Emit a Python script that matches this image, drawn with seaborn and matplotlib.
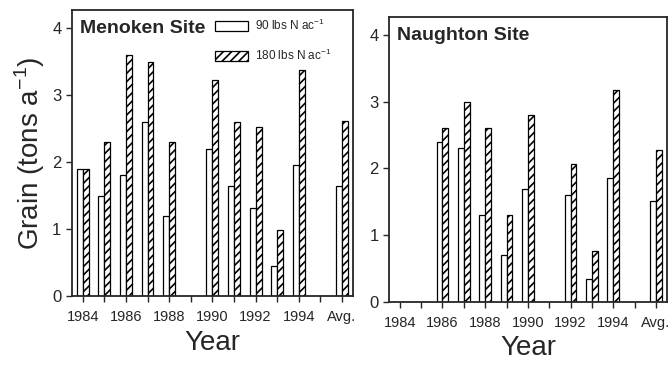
import numpy as np
import pandas as pd
import matplotlib
matplotlib.use('Agg')
import matplotlib.pyplot as plt
from matplotlib.patches import Patch
import seaborn as sns


# ============================================
# Data
# ============================================
years = ['1984', '1985', '1986', '1987', '1988', '1989', '1990',
         '1991', '1992', '1993', '1994', '1995', 'Avg.']
tick_labels = ['1984', '', '1986', '', '1988', '', '1990',
               '', '1992', '', '1994', '', 'Avg.']
rates = ['90 lbs N ac$^{-1}$', '180 lbs N ac$^{-1}$']

menoken_90  = [1.90, 1.50, 1.80, 2.60, 1.20, np.nan, 2.20,
               1.65, 1.32, 0.45, 1.95, np.nan, 1.65]
menoken_180 = [1.90, 2.30, 3.60, 3.50, 2.30, np.nan, 3.22,
               2.60, 2.52, 0.98, 3.38, np.nan, 2.62]
naughton_90  = [np.nan, np.nan, 2.40, 2.30, 1.30, 0.70, 1.70,
                np.nan, 1.60, 0.35, 1.85, np.nan, 1.52]
naughton_180 = [np.nan, np.nan, 2.60, 3.00, 2.60, 1.30, 2.80,
                np.nan, 2.07, 0.76, 3.18, np.nan, 2.27]


def to_long(v90, v180):
    df = pd.DataFrame({'year': years * 2,
                       'rate': [rates[0]] * len(years) + [rates[1]] * len(years),
                       'grain': list(v90) + list(v180)})
    return df


sns.set_style('ticks')
plt.rcParams['font.family'] = ['Liberation Sans', 'DejaVu Sans']
plt.rcParams['hatch.linewidth'] = 1.2
plt.rcParams['mathtext.fontset'] = 'custom'
plt.rcParams['mathtext.rm'] = 'Liberation Sans'


def draw_panel(ax, df, title):
    sns.barplot(data=df, x='year', y='grain', hue='rate', order=years,
                hue_order=rates, palette=['white', 'white'], width=0.55,
                edgecolor='black', linewidth=0.9, legend=False, ax=ax)
    # hatch the 180 lbs bars (second hue container)
    for bar in ax.containers[1]:
        bar.set_hatch('////')
    ax.set_xlim(-0.5, 12.5)
    ax.set_ylim(0, 4.27)
    ax.set_yticks([0, 1, 2, 3, 4])
    ax.set_xticks(range(len(years)))
    ax.set_xticklabels(tick_labels, fontsize=10.5)
    ax.tick_params(axis='y', labelsize=12, length=4, width=1, direction='out')
    ax.tick_params(axis='x', length=4, width=1, direction='out', pad=6)
    for s in ax.spines.values():
        s.set_linewidth(1.3)
        s.set_visible(True)
    ax.set_xlabel('Year', fontsize=20, labelpad=4)
    ax.set_ylabel('')
    ax.text(0.03, 0.935, title, transform=ax.transAxes, fontsize=14,
            fontweight='bold', va='center', ha='left')


fig = plt.figure(figsize=(6.72, 3.67), dpi=100)
ax1 = fig.add_axes([0.107, 0.193, 0.418, 0.780])
ax2 = fig.add_axes([0.579, 0.177, 0.413, 0.777])

draw_panel(ax1, to_long(menoken_90, menoken_180), 'Menoken Site')
draw_panel(ax2, to_long(naughton_90, naughton_180), 'Naughton Site')

ax1.set_ylabel('Grain (tons a$^{-1}$)', fontsize=20, labelpad=4)

handles = [Patch(facecolor='white', edgecolor='black', linewidth=0.9),
           Patch(facecolor='white', edgecolor='black', linewidth=0.9, hatch='////')]
ax1.legend(handles, rates, loc='upper left', bbox_to_anchor=(0.48, 1.0),
           frameon=False, fontsize=8.5, handlelength=2.8, handleheight=0.9,
           labelspacing=1.2, handletextpad=0.6, borderaxespad=0.3)

plt.savefig('out.png', dpi=100)
plt.close()
